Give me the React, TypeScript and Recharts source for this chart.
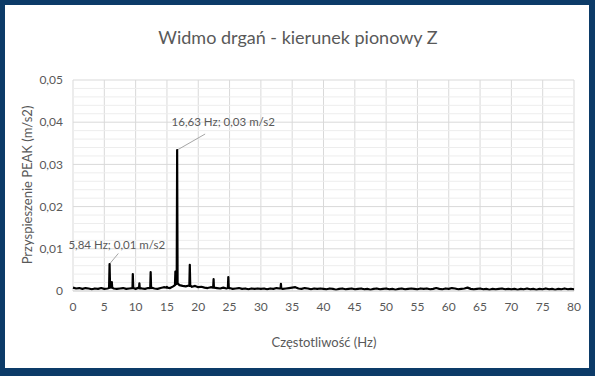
import React from "react";
import { LineChart, Line, XAxis, YAxis, CartesianGrid, ReferenceLine, ReferenceDot } from "recharts";

// Widmo: tło szumowe co 0,5 Hz + wyraźne piki
const floorStepHz = 0.5;
const floorAccel = [
  0.0008, 0.0006, 0.0007, 0.0005, 0.0007, 0.0006, 0.0004, 0.0006, 0.0005, 0.0007,
  0.0005, 0.0006, 0.0009, 0.0006, 0.0005, 0.0006, 0.0007, 0.0005, 0.0006, 0.0007,
  0.0005, 0.0008, 0.0006, 0.0005, 0.0007, 0.0008, 0.0006, 0.0005, 0.0007, 0.0009,
  0.0008, 0.0007, 0.0011, 0.0019, 0.0014, 0.0012, 0.0011, 0.0013, 0.001, 0.0012,
  0.0009, 0.001, 0.0008, 0.0007, 0.0009, 0.0008, 0.0007, 0.0006, 0.0008, 0.0006,
  0.0007, 0.0005, 0.0006, 0.0007, 0.0005, 0.0006, 0.0004, 0.0006, 0.0005, 0.0006,
  0.0005, 0.0006, 0.0004, 0.0006, 0.0005, 0.0007, 0.0006, 0.0005, 0.0006, 0.0007,
  0.0008, 0.0009, 0.0006, 0.0005, 0.0007, 0.0006, 0.0004, 0.0006, 0.0005, 0.0006,
  0.0005, 0.0004, 0.0006, 0.0005, 0.0003, 0.0005, 0.0006, 0.0004, 0.0005, 0.0006,
  0.0004, 0.0005, 0.0006, 0.0004, 0.0005, 0.0003, 0.0005, 0.0006, 0.0004, 0.0005,
  0.0006, 0.0004, 0.0005, 0.0003, 0.0005, 0.0006, 0.0004, 0.0005, 0.0006, 0.0005,
  0.0004, 0.0006, 0.0005, 0.0006, 0.0004, 0.0005, 0.0007, 0.0005, 0.0004, 0.0006,
  0.0005, 0.0007, 0.0006, 0.0004, 0.0005, 0.0006, 0.0008, 0.0005, 0.0004, 0.0005,
  0.0006, 0.0004, 0.0005, 0.0003, 0.0005, 0.0004, 0.0005, 0.0006, 0.0004, 0.0005,
  0.0004, 0.0005, 0.0003, 0.0005, 0.0004, 0.0006, 0.0004, 0.0005, 0.0003, 0.0005,
  0.0004, 0.0006, 0.0004, 0.0005, 0.0003, 0.0005, 0.0004, 0.0006, 0.0004, 0.0005,
  0.0004,
];

// piki z wąskimi zboczami (punkt przed / szczyt / punkt po)
const peakHz = [
  5.76, 5.84, 5.92, 6.14, 6.2, 6.26, 9.48, 9.55, 9.62, 10.54, 10.6, 10.66,
  12.33, 12.4, 12.47, 14.95, 15.0, 15.05, 16.28, 16.35, 16.42, 16.56, 16.63, 16.7,
  18.58, 18.65, 18.72, 22.38, 22.45, 22.52, 24.73, 24.8, 24.87, 33.14, 33.2, 33.26,
];
const peakAccel = [
  0.0007, 0.0064, 0.0008, 0.0008, 0.0021, 0.0008, 0.0007, 0.004, 0.0007, 0.0007, 0.0018, 0.0006,
  0.0007, 0.0045, 0.0007, 0.0008, 0.001, 0.0008, 0.0014, 0.0046, 0.0016, 0.0017, 0.0334, 0.0018,
  0.0012, 0.0062, 0.0013, 0.0008, 0.0028, 0.0008, 0.0007, 0.0033, 0.0007, 0.0006, 0.0017, 0.0006,
];

const xTicks = [0, 5, 10, 15, 20, 25, 30, 35, 40, 45, 50, 55, 60, 65, 70, 75, 80];
const yTicks = [0, 0.01, 0.02, 0.03, 0.04, 0.05];
const yMinor = [0.002, 0.004, 0.006, 0.008, 0.012, 0.014, 0.016, 0.018, 0.022, 0.024, 0.026, 0.028, 0.032, 0.034, 0.036, 0.038, 0.042, 0.044, 0.046, 0.048];

// etykiety pików: punkt piku, koniec linii odniesienia, środek tekstu
const annotText = ["16,63 Hz; 0,03 m/s2", "5,84 Hz; 0,01 m/s2"];
const annotPeak = [[16.63, 0.0334], [5.84, 0.0064]];
const annotLeaderEnd = [[21.1, 0.0372], [7.24, 0.0089]];
const annotTextPos = [[24.0, 0.0401], [7.0, 0.0111]];

const data = [
  ...floorAccel.map((a, i) => ({ f: i * floorStepHz, a })),
  ...peakHz.map((f, i) => ({ f, a: peakAccel[i] })),
].sort((p, q) => p.f - q.f);

const FONT = "Lato, 'Open Sans', sans-serif";
const GREY = "#595959";

const fmtY = (v: number) => (v === 0 ? "0" : v.toFixed(2).replace(".", ","));

export default function App() {
  return (
    <div style={{ position: "absolute", left: 0, top: 0, width: 595, height: 376, background: "#0c3b68", fontFamily: FONT }}>
      <div style={{ position: "absolute", left: 5, top: 5, width: 584, height: 363, background: "#fff" }} />
      <div style={{ position: "absolute", left: 0, top: 0 }}>
        <LineChart width={595} height={376} data={data} margin={{ top: 80, right: 21, bottom: 55, left: 28 }}>
          <CartesianGrid stroke="#d9d9d9" />
          {yMinor.map((y) => (
            <ReferenceLine key={y} y={y} stroke="#ededed" strokeWidth={1} />
          ))}
          <XAxis
            type="number"
            dataKey="f"
            domain={[0, 80]}
            ticks={xTicks}
            interval={0}
            height={30}
            tickLine={false}
            axisLine={{ stroke: "#d9d9d9" }}
            tickMargin={5}
            tick={{ fontSize: 12, fill: GREY, fontFamily: FONT }}
          />
          <YAxis
            type="number"
            domain={[0, 0.05]}
            ticks={yTicks}
            width={45}
            tickLine={false}
            axisLine={false}
            tickMargin={4}
            tickFormatter={fmtY}
            tick={{ fontSize: 12, fill: GREY, fontFamily: FONT }}
          />
          {annotPeak.map((p, i) => (
            <ReferenceLine
              key={"l" + i}
              segment={[{ x: p[0], y: p[1] }, { x: annotLeaderEnd[i][0], y: annotLeaderEnd[i][1] }]}
              stroke="#a6a6a6"
              strokeWidth={1}
            />
          ))}
          <Line
            type="linear"
            dataKey="a"
            stroke="#000"
            strokeWidth={2.2}
            strokeLinejoin="round"
            dot={false}
            isAnimationActive={false}
          />
          {annotTextPos.map((p, i) => (
            <ReferenceDot
              key={"t" + i}
              x={p[0]}
              y={p[1]}
              r={0}
              ifOverflow="visible"
              shape={(props: any) => (
                <text x={props.cx} y={props.cy} textAnchor="middle" dominantBaseline="central" fontSize={11.5} fill={GREY} fontFamily={FONT}>
                  {annotText[i]}
                </text>
              )}
            />
          ))}
        </LineChart>
      </div>
      <div style={{ position: "absolute", left: 298, top: 37, transform: "translate(-50%, -50%)", fontSize: 18, color: GREY, whiteSpace: "nowrap" }}>
        Widmo drgań - kierunek pionowy Z
      </div>
      <div style={{ position: "absolute", left: 324, top: 342, transform: "translate(-50%, -50%)", fontSize: 13, color: GREY, whiteSpace: "nowrap" }}>
        Częstotliwość (Hz)
      </div>
      <div style={{ position: "absolute", left: 27, top: 185, transform: "translate(-50%, -50%) rotate(-90deg)", fontSize: 13, color: GREY, whiteSpace: "nowrap" }}>
        Przyspieszenie PEAK (m/s2)
      </div>
    </div>
  );
}
